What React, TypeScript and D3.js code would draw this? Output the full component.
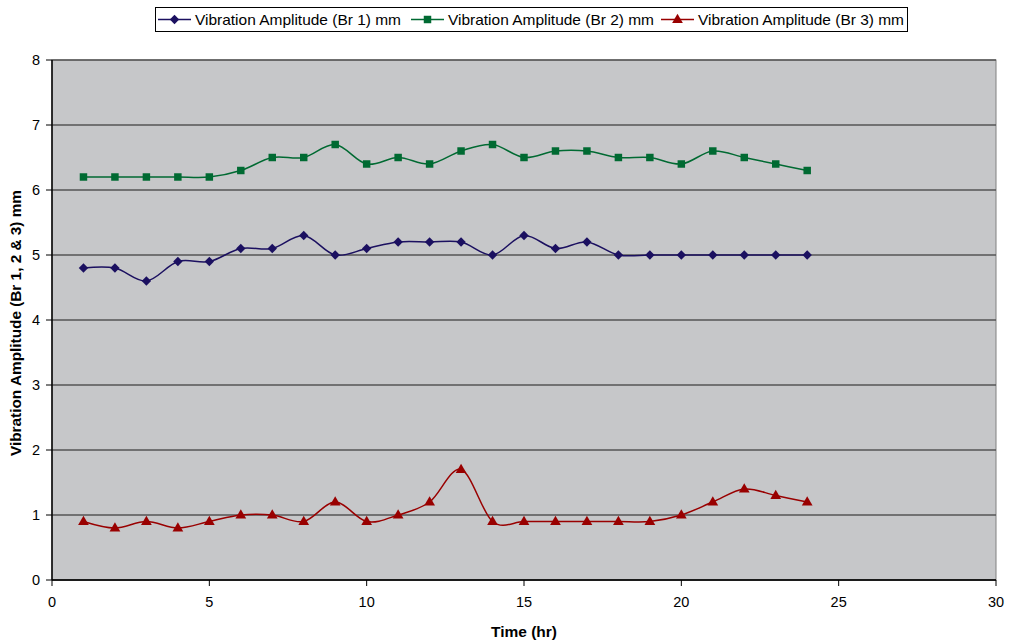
import React from "react"
import * as d3 from "d3"

const width = 1011
const height = 642

const margin = { top: 60, right: 15, bottom: 62, left: 52 }

const hours = [1, 2, 3, 4, 5, 6, 7, 8, 9, 10, 11, 12, 13, 14, 15, 16, 17, 18, 19, 20, 21, 22, 23, 24]
const br1 = [4.8, 4.8, 4.6, 4.9, 4.9, 5.1, 5.1, 5.3, 5.0, 5.1, 5.2, 5.2, 5.2, 5.0, 5.3, 5.1, 5.2, 5.0, 5.0, 5.0, 5.0, 5.0, 5.0, 5.0]
const br2 = [6.2, 6.2, 6.2, 6.2, 6.2, 6.3, 6.5, 6.5, 6.7, 6.4, 6.5, 6.4, 6.6, 6.7, 6.5, 6.6, 6.6, 6.5, 6.5, 6.4, 6.6, 6.5, 6.4, 6.3]
const br3 = [0.9, 0.8, 0.9, 0.8, 0.9, 1.0, 1.0, 0.9, 1.2, 0.9, 1.0, 1.2, 1.7, 0.9, 0.9, 0.9, 0.9, 0.9, 0.9, 1.0, 1.2, 1.4, 1.3, 1.2]

const xTicks = [0, 5, 10, 15, 20, 25, 30]
const yTicks = [0, 1, 2, 3, 4, 5, 6, 7, 8]

const seriesNames = [
  "Vibration Amplitude (Br 1) mm",
  "Vibration Amplitude (Br 2) mm",
  "Vibration Amplitude (Br 3) mm",
]
const seriesColors = ["#1b1060", "#006a32", "#990000"]
const seriesValues = [br1, br2, br3]

const font = "'Liberation Sans', Arial, sans-serif"

function Marker({ type, x, y, color }: { type: number; x: number; y: number; color: string }) {
  // diamond = rotated square, then square, then triangle
  if (type === 0) {
    const p = d3.symbol().type(d3.symbolSquare).size(44)() as string
    return <path d={p} transform={`translate(${x},${y}) rotate(45)`} fill={color} />
  }
  if (type === 1) {
    const p = d3.symbol().type(d3.symbolSquare).size(56)() as string
    return <path d={p} transform={`translate(${x},${y})`} fill={color} />
  }
  const p = d3.symbol().type(d3.symbolTriangle).size(50)() as string
  return <path d={p} transform={`translate(${x},${y})`} fill={color} />
}

function App() {
  const innerWidth = width - margin.left - margin.right
  const innerHeight = height - margin.top - margin.bottom

  const xScale = d3.scaleLinear().domain([0, 30]).range([0, innerWidth])
  const yScale = d3.scaleLinear().domain([0, 8]).range([innerHeight, 0])

  const line = d3
    .line<number>()
    .x((_, i) => xScale(hours[i]))
    .y((d) => yScale(d))
    .curve(d3.curveCardinal.tension(0))

  const legendX = [158, 411, 661]

  return (
    <svg
      width={width}
      height={height}
      style={{ position: "absolute", left: 0, top: 0, fontFamily: font }}
    >
      <rect width={width} height={height} fill="#ffffff" />

      {/* legend */}
      <rect x={155.5} y={7.5} width={752} height={24} fill="#ffffff" stroke="#000" strokeWidth={1} />
      {legendX.map((lx, i) => (
        <g key={i} transform={`translate(${lx}, 19.5)`}>
          <line x1={0} x2={33} stroke={seriesColors[i]} strokeWidth={1.5} />
          <Marker type={i} x={16.5} y={i === 2 ? 0.5 : 0} color={seriesColors[i]} />
          <text x={37} dy="0.36em" fontSize={15} textLength={206} lengthAdjust="spacingAndGlyphs">
            {seriesNames[i]}
          </text>
        </g>
      ))}

      <g transform={`translate(${margin.left}, ${margin.top})`}>
        <rect width={innerWidth} height={innerHeight} fill="#c6c7c9" stroke="#808080" />

        {yTicks.map((t) => (
          <g key={t} transform={`translate(0, ${yScale(t)})`}>
            <line x1={0} x2={innerWidth} stroke="#555555" strokeWidth={1.5} />
            <line x1={-6} x2={0} stroke="#000" />
            <text x={-12} dy="0.36em" fontSize={14.5} textAnchor="end">
              {t}
            </text>
          </g>
        ))}

        {xTicks.map((t) => (
          <g key={t} transform={`translate(${xScale(t)}, ${innerHeight})`}>
            <line y1={0} y2={6} stroke="#000" />
            <text y={17} dy="0.71em" fontSize={14.5} textAnchor="middle">
              {t}
            </text>
          </g>
        ))}

        <line x1={0} x2={0} y1={0} y2={innerHeight} stroke="#000" strokeWidth={1.5} />
        <line x1={0} x2={innerWidth} y1={innerHeight} y2={innerHeight} stroke="#000" strokeWidth={1.5} />

        {seriesValues.map((vals, si) => (
          <g key={si}>
            <path d={line(vals) as string} fill="none" stroke={seriesColors[si]} strokeWidth={1.5} />
            {vals.map((v, i) => (
              <Marker key={i} type={si} x={xScale(hours[i])} y={yScale(v) + (si === 2 ? 0.5 : 0)} color={seriesColors[si]} />
            ))}
          </g>
        ))}
      </g>

      <text
        x={margin.left + innerWidth / 2}
        y={637}
        fontSize={14.5}
        fontWeight="bold"
        textAnchor="middle"
        textLength={66}
        lengthAdjust="spacingAndGlyphs"
      >
        Time (hr)
      </text>
      <text
        transform={`translate(21, ${margin.top + innerHeight / 2 + 3}) rotate(-90)`}
        fontSize={14.5}
        fontWeight="bold"
        textAnchor="middle"
        textLength={266}
        lengthAdjust="spacingAndGlyphs"
      >
        Vibration Amplitude (Br 1, 2 &amp; 3) mm
      </text>
    </svg>
  )
}

export default App
